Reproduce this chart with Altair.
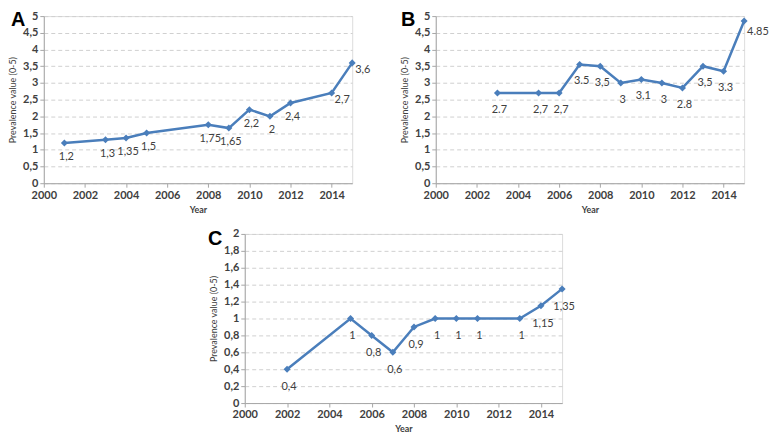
import json
import altair as alt
import pandas as pd

# ---------------- data ----------------
years_a = [2001, 2003, 2004, 2005, 2008, 2009, 2010, 2011, 2012, 2014, 2015]
values_a = [1.2, 1.3, 1.35, 1.5, 1.75, 1.65, 2.2, 2.0, 2.4, 2.7, 3.6]
labels_a = ["1,2", "1,3", "1,35", "1,5", "1,75", "1,65", "2,2", "2", "2,4", "2,7", "3,6"]

years_b = [2003, 2005, 2006, 2007, 2008, 2009, 2010, 2011, 2012, 2013, 2014, 2015]
values_b = [2.7, 2.7, 2.7, 3.55, 3.5, 3.0, 3.1, 3.0, 2.85, 3.5, 3.35, 4.85]
labels_b = ["2.7", "2,7", "2,7", "3.5", "3,5", "3", "3,1", "3", "2.8", "3,5", "3.3", "4.85"]

years_c = [2002, 2005, 2006, 2007, 2008, 2009, 2010, 2011, 2013, 2014, 2015]
values_c = [0.4, 1.0, 0.8, 0.6, 0.9, 1.0, 1.0, 1.0, 1.0, 1.15, 1.35]
labels_c = ["0,4", "1", "0,8", "0,6", "0,9", "1", "1", "1", "1", "1,15", "1,35"]

x_ticks = [2000, 2002, 2004, 2006, 2008, 2010, 2012, 2014]
y_ticks_ab = [0, 0.5, 1, 1.5, 2, 2.5, 3, 3.5, 4, 4.5, 5]
y_ticks_c = [0, 0.2, 0.4, 0.6, 0.8, 1, 1.2, 1.4, 1.6, 1.8, 2]

# ---------------- style ----------------
BLUE = "#4a7ebb"
TXT = "#404040"
AXC = "#a6a6a6"
FONT = "Lato"


def panel(years, values, labels, letter, ymax, yticks, width, height,
          right_years, dy, right_dy, letter_x, letter_y):
    df = pd.DataFrame({"year": years, "value": values, "label": labels})
    x = alt.X("year:Q",
              scale=alt.Scale(domain=[2000, 2015], nice=False, zero=False),
              axis=alt.Axis(values=x_ticks, format="d", title="Year", grid=False,
                            labelFlush=False, labelOverlap=False,
                            domainColor=AXC, tickColor=AXC, tickSize=4,
                            labelColor=TXT, labelFont=FONT, labelFontSize=11,
                            labelFontWeight="bold",
                            titleFont=FONT, titleFontSize=9, titleFontWeight="bold",
                            titleColor=TXT, titlePadding=5))
    y = alt.Y("value:Q",
              scale=alt.Scale(domain=[0, ymax], nice=False),
              axis=alt.Axis(values=yticks, labelExpr="replace(format(datum.value, '.1~f'), '.', ',')",
                            labelFlush=False, labelOverlap=False,
                            title="Prevalence value (0-5)", grid=True,
                            gridDash=[4, 3], gridColor="#d0d0d0",
                            domainColor=AXC, tickColor=AXC, tickSize=4,
                            labelColor=TXT, labelFont=FONT, labelFontSize=11,
                            labelFontWeight="bold",
                            titleFont=FONT, titleFontSize=9, titleFontWeight="normal",
                            titleColor=TXT, titlePadding=5))
    base = alt.Chart(df).encode(x=x, y=y)
    line = base.mark_line(color=BLUE, strokeWidth=2.5)
    pts = base.mark_point(shape="diamond", filled=True, size=50, color=BLUE, opacity=1)
    ry = json.dumps(right_years)
    below = base.transform_filter(f"indexof({ry}, datum.year) < 0").mark_text(
        dy=dy, dx=2, font=FONT, fontSize=11, color=TXT, align="center", baseline="middle"
    ).encode(text="label:N")
    right = base.transform_filter(f"indexof({ry}, datum.year) >= 0").mark_text(
        dx=3, dy=right_dy, font=FONT, fontSize=11, color=TXT, align="left", baseline="middle"
    ).encode(text="label:N")
    let = alt.Chart(alt.Data(values=[{"t": letter}])).mark_text(
        font="Liberation Sans", fontSize=20, fontWeight="bold", color="#000000",
        align="left", baseline="top"
    ).encode(text="t:N", x=alt.value(letter_x), y=alt.value(letter_y))
    return alt.layer(line, pts, below, right, let).properties(width=width, height=height)


A = panel(years_a, values_a, labels_a, "A", 5, y_ticks_ab, 310, 168, [2014, 2015], 14, 7, -33, -6)
B = panel(years_b, values_b, labels_b, "B", 5, y_ticks_ab, 310, 168, [2015], 17, 11, -35, -6)
C = panel(years_c, values_c, labels_c, "C", 2, y_ticks_c, 319, 170, [], 18, 11, -37, -5)

spacer = alt.Chart(alt.Data(values=[{"t": 0}])).mark_point(opacity=0).properties(width=164, height=10)

top = alt.hconcat(A, B, spacing=29)
bottom = alt.hconcat(spacer, C, spacing=0)
chart = alt.vconcat(top, bottom, spacing=12).configure_view(stroke=None).configure(
    background="white", padding=0
)

chart.save("out.html", embed_options={"renderer": "svg", "actions": False})
